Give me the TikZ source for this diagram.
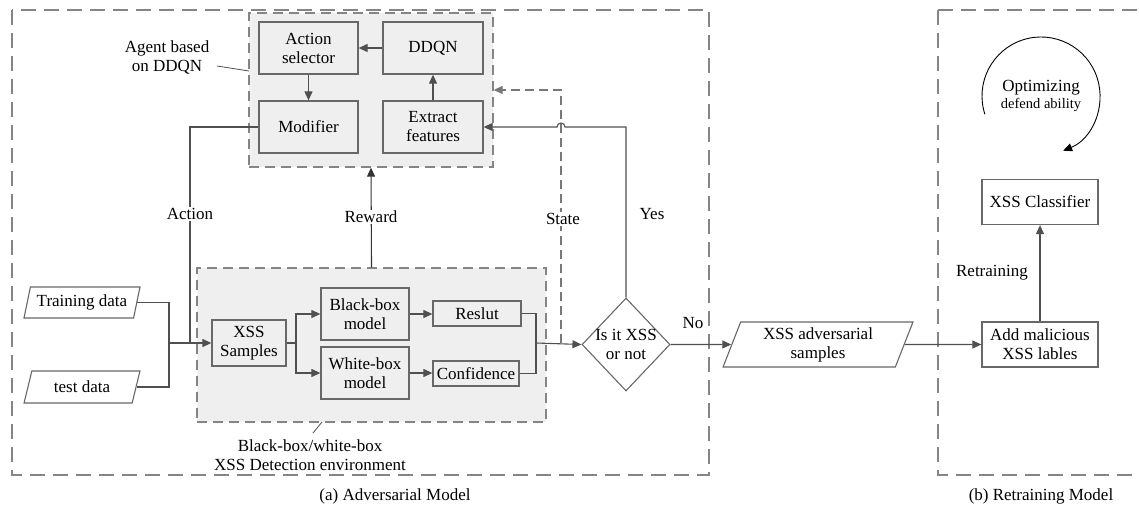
\documentclass[tikz,border=0pt]{standalone}
\usepackage{fontspec}
\setmainfont{Liberation Serif}
\usetikzlibrary{arrows.meta,shapes.geometric,calc}
\definecolor{lnc}{HTML}{505050}
\definecolor{bxc}{HTML}{686868}
\definecolor{flc}{HTML}{EFEFEF}
\definecolor{dshc}{HTML}{858585}
\tikzset{
  txt/.style={font=\fontsize{17}{19}\selectfont},
  box/.style={txt, draw=bxc, line width=1.3pt, fill=flc, inner sep=0pt, align=center},
  wbox/.style={box, fill=white},
  arr/.style={draw=lnc, line width=1.1pt, -{Triangle[length=9pt,width=8pt]}},
  plain/.style={draw=lnc, line width=1.1pt},
  frame/.style={draw=dshc, line width=1.3pt, dash pattern=on 15pt off 8pt},
  grp/.style={draw=dshc, fill=flc, line width=1.3pt, dash pattern=on 10pt off 6pt, inner sep=0pt},
  lbl/.style={txt, align=center, fill=white, inner sep=1pt},
  para/.style={txt, draw=bxc, line width=1.1pt, fill=white, trapezium, trapezium left angle=70, trapezium right angle=110, trapezium stretches=true, inner sep=0pt, align=center},
}
\begin{document}
\begin{tikzpicture}[x=1pt,y=-1pt]
\useasboundingbox (0,0) rectangle (1139,508);
% frames
\draw[frame] (12,10) rectangle (709,475);
\draw[frame] (938,10) -- (1150,10) (938,10) -- (938,475) -- (1150,475);
\node[txt] (capa) at (395,496) {(a) Adversarial Model};
\node[txt] (capb) at (1041,496) {(b) Retraining Model};

% groups
\node[grp, minimum width=244, minimum height=154] (agent) at (371,90) {};
\node[grp, minimum width=349, minimum height=154] (env) at (371.5,345) {};

% agent boxes
\node[box, minimum width=99, minimum height=52] (actsel) at (308.5,48) {Action\\selector};
\node[box, minimum width=100, minimum height=52] (ddqn) at (433,48) {DDQN};
\node[box, minimum width=99, minimum height=52] (modif) at (308.5,127) {Modifier};
\node[box, minimum width=100, minimum height=52] (extr) at (433,127) {Extract\\features};

% env boxes
\node[box, minimum width=74, minimum height=46] (xss) at (249,343) {XSS\\Samples};
\node[box, minimum width=88, minimum height=52] (black) at (365,314) {Black-box\\model};
\node[box, minimum width=88, minimum height=52] (white) at (365,373) {White-box\\model};
\node[box, minimum width=88, minimum height=25] (reslut) at (477,313.5) {Reslut};
\node[box, minimum width=86, minimum height=25] (conf) at (476,373.5) {Confidence};

% inputs
\node[para, minimum width=116, minimum height=31] (train) at (82,302.5) {Training data};
\node[para, minimum width=116, minimum height=32] (test) at (82,387) {test data};

% decision
\node[txt, draw=bxc, line width=1.1pt, fill=white, diamond, inner sep=-14pt, minimum width=88, minimum height=93, align=center] (dia) at (626,344.5) {Is it XSS\\or not};

% right side
\node[para, minimum width=190, minimum height=45] (adv) at (818,344.5) {XSS adversarial\\samples};
\node[wbox, minimum width=116, minimum height=45] (addm) at (1040,344.5) {Add malicious\\XSS lables};
\node[wbox, minimum width=116, minimum height=45] (clf) at (1040,202) {XSS Classifier};

% labels
\node[txt, align=center] (aglbl) at (167,57) {Agent based\\on DDQN};
\draw[draw=lnc, line width=0.8pt] (217,66) -- (249,71);
\node[txt, align=center] (envlbl) at (310,455) {Black-box/white-box\\XSS Detection environment};
\draw[draw=lnc, line width=0.8pt] (322,422) -- (313,433);

% coordinates
\coordinate (jA) at (190,343);
\coordinate (jT) at (169,343);
\coordinate (jX) at (296,343);
\coordinate (jR) at (536,343);
\coordinate (sB) at (561,343);
\coordinate (sT) at (561,90);
\coordinate (yC) at (626,127);

% agent internals
\draw[arr] (ddqn.west) -- (actsel.east);
\draw[arr] (actsel.south) -- (modif.north);
\draw[arr] (extr.north) -- (ddqn.south);

% action
\draw[plain] (modif.west) -| (jA);
\node[lbl] (actlbl) at (190,214) {Action};
\draw[plain] (train.east) -| (jT);
\draw[plain] (test.east) -| (jT);
\draw[arr] (jT) -- (xss.west);

% env internals
\draw[plain] (xss.east) -- (jX);
\draw[arr] (jX) |- (black.west);
\draw[arr] (jX) |- (white.west);
\draw[arr] (black.east) -- (black.east -| reslut.west);
\draw[arr] (white.east) -- (white.east -| conf.west);
\draw[plain] (reslut.east) -| (jR);
\draw[plain] (conf.east) -| (jR);
\draw[arr] (jR) -- (dia.west);

% reward
\draw[arr, draw=black!80] (env.north) -- (agent.south);
\node[lbl] (rwlbl) at (371,217) {Reward};

% state
\draw[draw=dshc!90!black, line width=1.2pt, dash pattern=on 9pt off 5pt, -{Triangle[length=9pt,width=8pt]}] (sB) -- (sT) -- (agent.east |- sT);
\node[lbl] (stlbl) at (563,219) {State};

% yes
\draw[arr] (dia.north) -- (yC) -- (565,127) arc[start angle=0, end angle=180, radius=4pt] -- (extr.east);
\node[txt] (yeslbl) at (652,214) {Yes};

% no
\draw[arr] (dia.east) -- (adv.west);
\node[txt] (nolbl) at (693,323) {No};
\draw[arr] (adv.east) -- (addm.west);
\draw[arr] (addm.north) -- (clf.south);
\node[txt] (rtlbl) at (992,273) {Retraining};

% optimizing loop
\coordinate (oc) at (1041,96);
\draw[draw=black, line width=0.9pt, -{Triangle[length=9pt,width=8pt]}] ([shift={(198:59pt)}]oc) arc[start angle=198, end angle=-68, radius=59pt];
\node[txt, align=center] (optlbl) at (1041,96) {Optimizing\\[-2pt]{\fontsize{14.5}{15}\selectfont defend ability}};
\end{tikzpicture}
\end{document}
